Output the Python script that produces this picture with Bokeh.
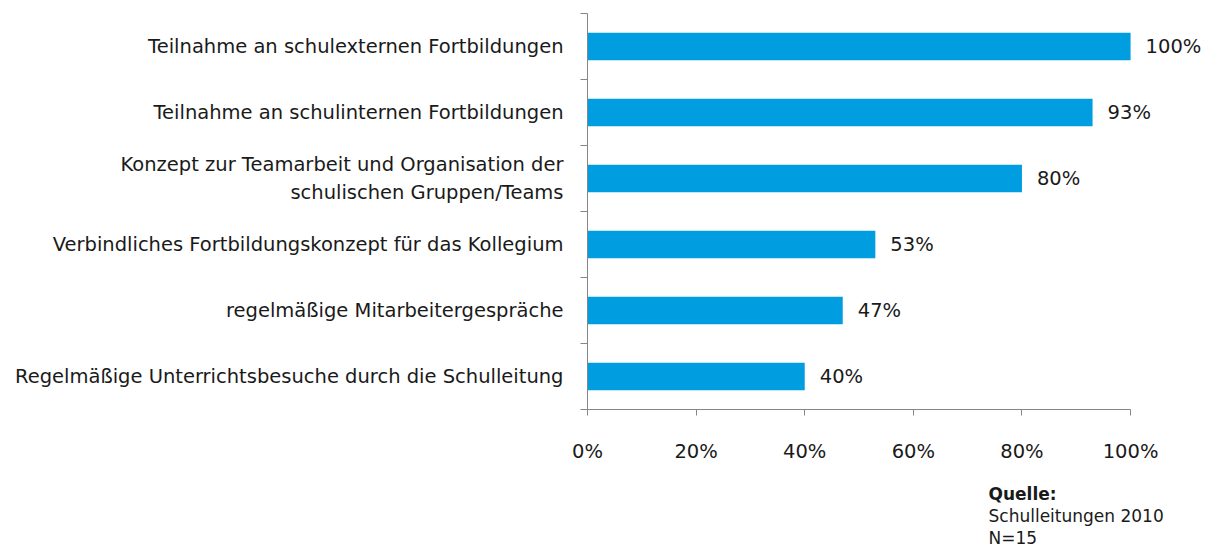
from bokeh.plotting import figure
from bokeh.models import FixedTicker, NumeralTickFormatter, ColumnDataSource, LabelSet, Range1d, Title
from bokeh.core.properties import value
from bokeh.embed import file_html
from bokeh.resources import INLINE

categories = [
    "Teilnahme an schulexternen Fortbildungen",
    "Teilnahme an schulinternen Fortbildungen",
    "Konzept zur Teamarbeit und Organisation der\nschulischen Gruppen/Teams",
    "Verbindliches Fortbildungskonzept für das Kollegium",
    "regelmäßige Mitarbeitergespräche",
    "Regelmäßige Unterrichtsbesuche durch die Schulleitung",
]
values = [1.00, 0.93, 0.80, 0.53, 0.47, 0.40]
value_labels = ["100%", "93%", "80%", "53%", "47%", "40%"]
x_ticks = [0, 0.2, 0.4, 0.6, 0.8, 1.0]
source_lines = ["Quelle:", "Schulleitungen 2010", "N=15"]

FONT = "DejaVu Sans"
FS = "19.5px"
TXT = "#1a1a1a"
n = len(categories)
ypos = [n - 0.5 - i for i in range(n)]

src = ColumnDataSource(dict(y=ypos, v=values, lab=value_labels))

p = figure(width=1211, height=547, output_backend="svg", toolbar_location=None,
           x_range=Range1d(0, 1.149), y_range=Range1d(0, n),
           min_border_left=587, min_border_right=0, min_border_top=13, min_border_bottom=10)
p.outline_line_color = None
p.xgrid.visible = False
p.ygrid.visible = False

p.hbar(y="y", right="v", left=0, height=0.42, source=src, color="#009EE0", line_color=None)
p.add_layout(LabelSet(x="v", y="y", text="lab", source=src, x_offset=15, text_baseline="middle",
                      text_font=value(FONT), text_font_size=value(FS), text_color=TXT))

axis_color = "#868686"
xa = p.xaxis[0]
xa.bounds = (0, 1)
xa.ticker = FixedTicker(ticks=x_ticks)
xa.formatter = NumeralTickFormatter(format="0%")
xa.axis_line_color = axis_color
xa.major_tick_line_color = axis_color
xa.major_tick_out = 6
xa.major_tick_in = 0
xa.minor_tick_line_color = None
xa.major_label_standoff = 24
xa.major_label_text_font = FONT
xa.major_label_text_font_size = FS
xa.major_label_text_color = TXT
xa.axis_label = "\u00a0"
xa.axis_label_text_font_size = "1px"
xa.axis_label_standoff = 12

ya = p.yaxis[0]
ya.ticker = FixedTicker(ticks=ypos, minor_ticks=list(range(n + 1)))
ya.major_label_overrides = {ypos[i]: categories[i] for i in range(n)}
ya.axis_line_color = axis_color
ya.major_tick_line_color = None
ya.major_tick_out = 0
ya.major_tick_in = 0
ya.minor_tick_line_color = axis_color
ya.minor_tick_out = 7
ya.minor_tick_in = 0
ya.major_label_standoff = 17
ya.major_label_text_font = FONT
ya.major_label_text_font_size = FS
ya.major_label_text_color = TXT

for i, t in enumerate(source_lines):
    p.add_layout(Title(text=t, align="left", offset=401, standoff=0,
                       text_font=FONT, text_font_size="17px", text_color=TXT,
                       text_font_style="bold" if i == 0 else "normal"), "below")

open("out.html", "w").write(file_html(p, INLINE))
